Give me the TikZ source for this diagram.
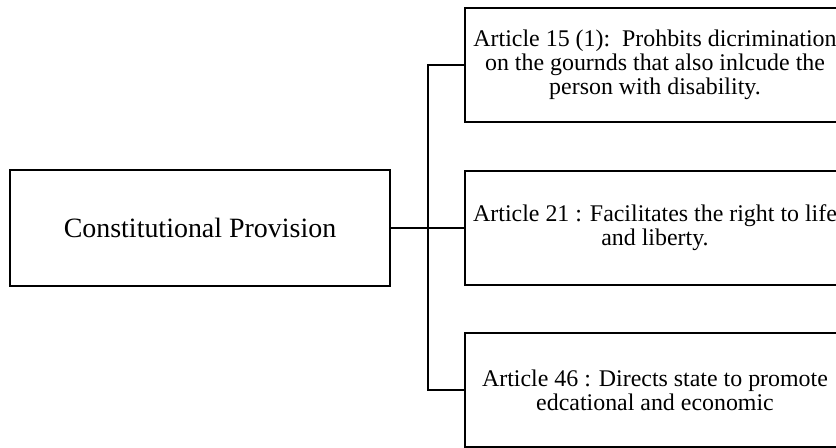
\documentclass[tikz,border=0pt]{standalone}
\usepackage{fontspec}
\setmainfont{Liberation Serif}
\usepackage{tikz}

\begin{document}
\begin{tikzpicture}[
				provbox/.style = {draw = black, line width = 1.3pt, minimum width = 7.6cm, minimum height = 2.32cm, align = center, font = \fontsize{15.9}{17}\selectfont},
				artbox/.style = {draw = black, line width = 1.3pt, minimum width = 7.6cm, minimum height = 2.28cm, inner sep = 2pt, align = center, font = \fontsize{13.6}{13.7}\selectfont},
				link/.style = {draw = black, line width = 1.3pt}]
				\clip (0, 0) rectangle (16.72, -8.96);
				\node[provbox] (prov) at (4.0, -4.56) {Constitutional Provision};
				\node[artbox] (art15) at (13.1, -1.3) {Article 15 (1):\ \ Prohbits dicrimination\\ on the gournds that also inlcude the\\ person with disability.};
				\node[artbox] (art21) at (13.1, -4.56) {Article 21 : Facilitates the right to life\\ and liberty.};
				\node[artbox] (art46) at (13.1, -7.8) {Article 46 : Directs state to promote\\ edcational and economic};
				\coordinate (fork) at (8.56, -4.56);
				\draw[link] (prov.east) -- (art21.west);
				\draw[link] (art15.west) -| (fork) |- (art46.west);
			\end{tikzpicture}
\end{document}
